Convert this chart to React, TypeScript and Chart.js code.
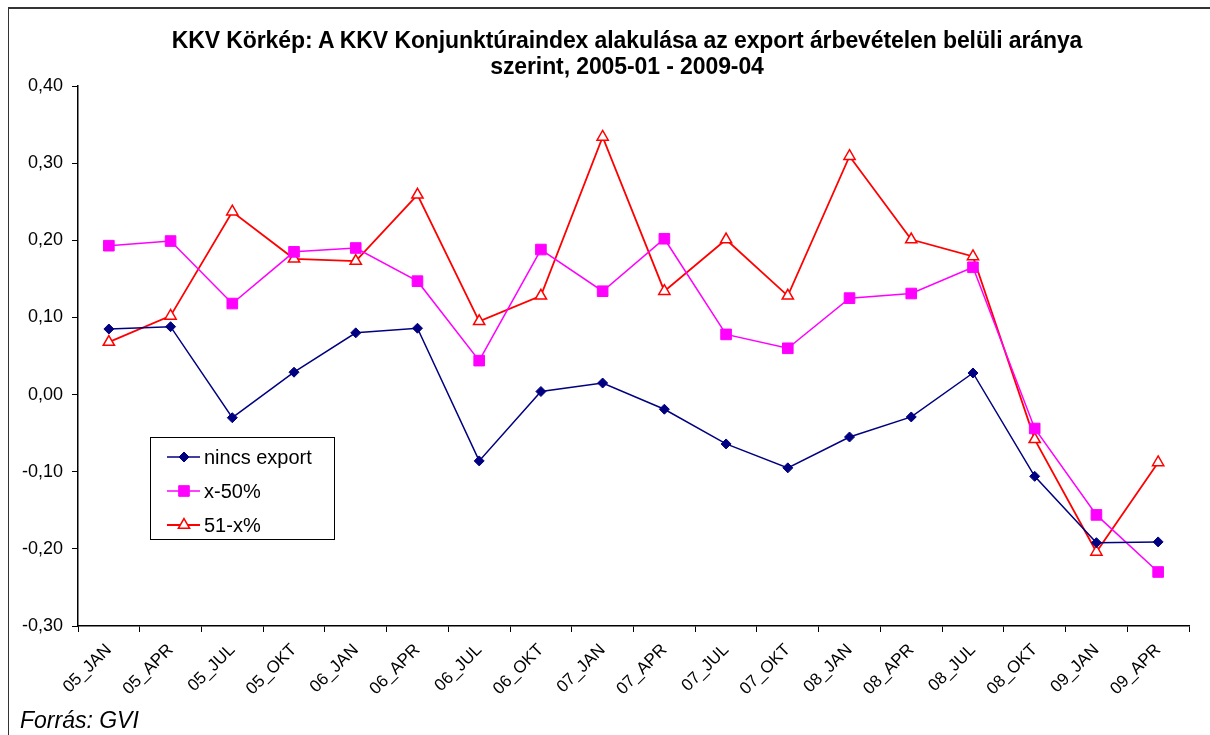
import React, { useEffect, useRef } from 'react';
import { Chart, registerables } from 'chart.js';

Chart.register(...registerables);

const titleLine1 = 'KKV Körkép: A KKV Konjunktúraindex alakulása az export árbevételen belüli aránya';
const titleLine2 = 'szerint, 2005-01 - 2009-04';
const sourceText = 'Forrás: GVI';

const categories = ['05_JAN', '05_APR', '05_JUL', '05_OKT', '06_JAN', '06_APR', '06_JUL', '06_OKT', '07_JAN', '07_APR', '07_JUL', '07_OKT', '08_JAN', '08_APR', '08_JUL', '08_OKT', '09_JAN', '09_APR'];

const nincsExport = [0.085, 0.088, -0.030, 0.029, 0.080, 0.086, -0.086, 0.004, 0.015, -0.019, -0.064, -0.095, -0.055, -0.029, 0.028, -0.106, -0.192, -0.191];
const x50 = [0.193, 0.199, 0.118, 0.185, 0.190, 0.147, 0.044, 0.188, 0.134, 0.202, 0.078, 0.060, 0.125, 0.131, 0.165, -0.044, -0.156, -0.230];
const x51 = [0.068, 0.102, 0.237, 0.176, 0.173, 0.259, 0.095, 0.128, 0.334, 0.134, 0.201, 0.128, 0.309, 0.201, 0.179, -0.058, -0.204, -0.088];

const seriesLabels = ['nincs export', 'x-50%', '51-x%'];

const yMin = -0.3;
const yMax = 0.4;
const yStep = 0.1;

const FONT = '"Liberation Sans", Arial, sans-serif';

function drawMarker(ctx: CanvasRenderingContext2D, style: string, x: number, y: number, r: number, fill: string, stroke: string, bw: number) {
  ctx.save();
  ctx.beginPath();
  if (style === 'rectRot') {
    ctx.moveTo(x, y - r);
    ctx.lineTo(x + r, y);
    ctx.lineTo(x, y + r);
    ctx.lineTo(x - r, y);
    ctx.closePath();
  } else if (style === 'rect') {
    const s = Math.SQRT1_2 * r;
    ctx.rect(x - s, y - s, 2 * s, 2 * s);
  } else {
    const w = r * Math.sin(Math.PI / 3);
    ctx.moveTo(x, y - r);
    ctx.lineTo(x + w, y + r / 2);
    ctx.lineTo(x - w, y + r / 2);
    ctx.closePath();
  }
  ctx.fillStyle = fill;
  ctx.fill();
  ctx.lineWidth = bw;
  ctx.strokeStyle = stroke;
  ctx.stroke();
  ctx.restore();
}

const legendBoxPlugin = {
  id: 'legendBox',
  afterDraw(chart: any) {
    const ctx: CanvasRenderingContext2D = chart.ctx;
    const area = chart.chartArea;
    const bx = area.left + 72;
    const by = area.top + 351;
    const bw = 184;
    const bh = 102;
    ctx.save();
    ctx.fillStyle = '#ffffff';
    ctx.fillRect(bx, by, bw, bh);
    ctx.strokeStyle = '#000000';
    ctx.lineWidth = 1;
    ctx.strokeRect(bx + 0.5, by + 0.5, bw, bh);
    chart.data.datasets.forEach((ds: any, i: number) => {
      const rowY = by + 20 + i * 34;
      ctx.beginPath();
      ctx.moveTo(bx + 17, rowY);
      ctx.lineTo(bx + 50, rowY);
      ctx.strokeStyle = ds.borderColor;
      ctx.lineWidth = ds.borderWidth;
      ctx.stroke();
      drawMarker(ctx, ds.pointStyle, bx + 34, rowY, ds.pointRadius, ds.pointBackgroundColor, ds.pointBorderColor, ds.pointBorderWidth);
      ctx.fillStyle = '#000000';
      ctx.font = '20px ' + FONT;
      ctx.textBaseline = 'middle';
      ctx.textAlign = 'left';
      ctx.fillText(ds.label, bx + 54, rowY + 1);
    });
    ctx.restore();
  },
};

function fmt(v: number) {
  const r = Math.round(v * 100) / 100;
  return (r === 0 ? 0 : r).toFixed(2).replace('.', ',');
}

export default function App() {
  const canvasRef = useRef<HTMLCanvasElement | null>(null);

  useEffect(() => {
    const canvas = canvasRef.current;
    if (!canvas) return;
    const chart = new Chart(canvas, {
      type: 'line',
      data: {
        labels: categories,
        datasets: [
          {
            label: seriesLabels[0],
            data: nincsExport,
            borderColor: '#000080',
            borderWidth: 1.5,
            pointStyle: 'rectRot',
            pointRadius: 5,
            pointBackgroundColor: '#000080',
            pointBorderColor: '#000080',
            pointBorderWidth: 1,
            tension: 0,
          },
          {
            label: seriesLabels[1],
            data: x50,
            borderColor: '#FF00FF',
            borderWidth: 1.5,
            pointStyle: 'rect',
            pointRadius: 7.5,
            pointBackgroundColor: '#FF00FF',
            pointBorderColor: '#FF00FF',
            pointBorderWidth: 1,
            tension: 0,
          },
          {
            label: seriesLabels[2],
            data: x51,
            borderColor: '#FF0000',
            borderWidth: 1.8,
            pointStyle: 'triangle',
            pointRadius: 6.5,
            pointBackgroundColor: '#FFFFFF',
            pointBorderColor: '#FF0000',
            pointBorderWidth: 1.5,
            tension: 0,
          },
        ],
      },
      options: {
        responsive: false,
        animation: false,
        events: [],
        layout: { padding: { left: 0, right: 21, top: 86, bottom: 0 } },
        plugins: {
          legend: { display: false },
          title: { display: false },
          tooltip: { enabled: false },
        },
        scales: {
          x: {
            type: 'category',
            offset: true,
            grid: {
              offset: true,
              drawOnChartArea: false,
              drawTicks: true,
              tickLength: 6,
              color: '#000000',
            },
            border: { display: true, color: '#000000', width: 1.5 },
            ticks: {
              autoSkip: false,
              maxRotation: 45,
              minRotation: 45,
              padding: 8,
              color: '#000000',
              font: { family: FONT, size: 17 },
            },
            afterFit: (scale: any) => {
              scale.height = 109;
            },
          },
          y: {
            min: yMin,
            max: yMax,
            grid: {
              drawOnChartArea: false,
              drawTicks: true,
              tickLength: 6,
              color: '#000000',
            },
            border: { display: true, color: '#000000', width: 1.5 },
            ticks: {
              stepSize: yStep,
              padding: 9,
              color: '#000000',
              font: { family: FONT, size: 18 },
              callback: (v: any) => fmt(Number(v)),
            },
            afterFit: (scale: any) => {
              scale.width = 78;
            },
          },
        },
      },
      plugins: [legendBoxPlugin],
    });
    return () => chart.destroy();
  }, []);

  return (
    <div style={{ position: 'absolute', left: 0, top: 0, width: 1210, height: 735, background: '#ffffff', overflow: 'hidden' }}>
      <div style={{ position: 'absolute', left: 8, top: 7, right: -2, bottom: -2, borderTop: '2px solid #333', borderLeft: '1px solid #333' }} />
      <canvas ref={canvasRef} width={1210} height={735} style={{ position: 'absolute', left: 0, top: 0, display: 'block' }} />
      <div
        style={{
          position: 'absolute',
          left: 0,
          top: 27,
          width: 1254,
          textAlign: 'center',
          fontFamily: FONT,
          fontWeight: 'bold',
          fontSize: 23,
          lineHeight: '26px',
          letterSpacing: '-0.1px',
          color: '#000',
        }}
      >
        <div>{titleLine1}</div>
        <div>{titleLine2}</div>
      </div>
      <div
        style={{
          position: 'absolute',
          left: 20,
          top: 707,
          fontFamily: FONT,
          fontStyle: 'italic',
          fontSize: 23,
          lineHeight: '26px',
          color: '#000',
        }}
      >
        {sourceText}
      </div>
    </div>
  );
}
